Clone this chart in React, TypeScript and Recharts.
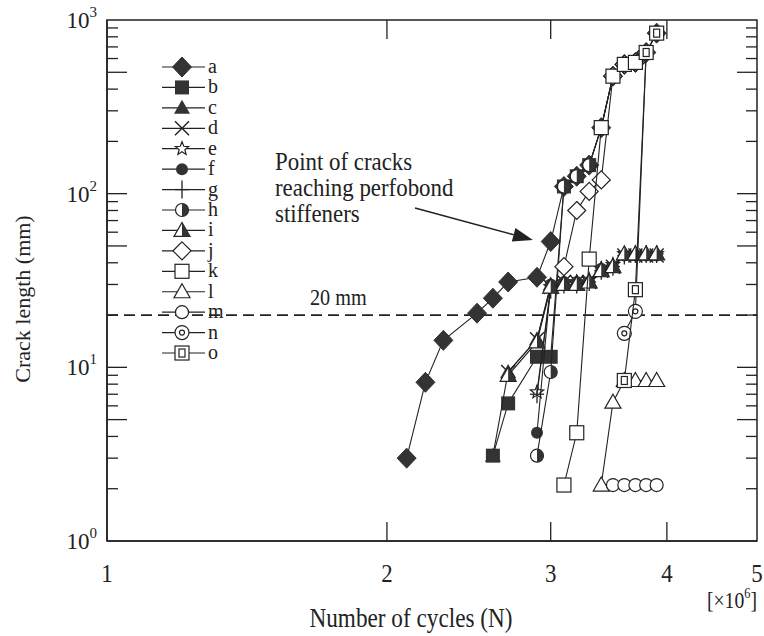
import { ComposedChart, Legend, ReferenceArea, ReferenceLine, Scatter, XAxis, YAxis } from 'recharts';

const CHART_W = 764;
const CHART_H = 636;
const MARGIN = { top: 20, right: 7, left: 0, bottom: 0 };
const Y_AXIS_W = 107;
const X_AXIS_H = 95;
const PLOT_W = CHART_W - MARGIN.left - MARGIN.right - Y_AXIS_W;
const PLOT_H = CHART_H - MARGIN.top - MARGIN.bottom - X_AXIS_H;

const INK = '#222';
const FILL = '#333';
const SERIF = '"Liberation Serif", "Times New Roman", serif';

const X_TICKS = [1, 2, 3, 4, 5];
const Y_TICKS = [1, 2, 3, 4, 5, 6, 7, 8, 9, 10, 20, 30, 40, 50, 60, 70, 80, 90, 100, 200, 300, 400, 500, 600, 700, 800, 900, 1000];
const Y_EXP: Record<number, string> = { 1: '0', 10: '1', 100: '2', 1000: '3' };
const Y_LONG = [5, 10, 50, 100, 500];

const THRESHOLD = 20;
const ARROW_FROM = { x: 2.144, y: 82.6 };
const ARROW_TO = { x: 2.871, y: 54.1 };

// cycles (x10^6) and crack length (mm) per specimen
const A_N = [2.1, 2.2, 2.3, 2.5, 2.6, 2.7, 2.9, 3.0, 3.1, 3.2, 3.3, 3.4, 3.5, 3.6, 3.7, 3.8, 3.9];
const A_LEN = [3.0, 8.2, 14.3, 20.5, 25, 31, 33, 53, 110, 126, 146, 240, 475, 555, 570, 650, 840];
const B_N = [2.6, 2.7, 2.9, 3.0, 3.1, 3.2, 3.3, 3.4, 3.5, 3.6];
const B_LEN = [3.1, 6.2, 11.5, 11.5, 110, 126, 146, 240, 475, 555];
const C_N = [2.6, 2.7, 2.9, 3.0, 3.1, 3.2, 3.3, 3.4, 3.5, 3.6, 3.7, 3.8, 3.9];
const C_LEN = [3.1, 9.4, 14.5, 30, 31, 31, 31, 37, 38, 45, 45, 45, 45];
const D_N = [2.7, 2.9, 3.0, 3.1, 3.2, 3.3, 3.4, 3.5, 3.6, 3.7, 3.8, 3.9];
const D_LEN = [9.4, 14.5, 29, 31, 31, 31, 36, 38, 44, 44, 44, 44];
const E_N = [2.9, 3.0, 3.1, 3.2, 3.3, 3.4, 3.5, 3.6, 3.7, 3.8, 3.9];
const E_LEN = [7.2, 29, 31, 31, 32, 37, 39, 45, 45, 45, 45];
const F_N = [2.9, 3.0, 3.1, 3.2, 3.3, 3.4, 3.5, 3.6, 3.7, 3.8, 3.9];
const F_LEN = [4.2, 30, 31, 31, 31, 37, 38, 44, 44, 44, 44];
const G_N = [2.9, 3.0, 3.1, 3.2, 3.3, 3.4, 3.5, 3.6, 3.7, 3.8, 3.9];
const G_LEN = [7.0, 28, 30, 30, 31, 36, 38, 44, 45, 45, 45];
const H_N = [2.9, 3.0, 3.1, 3.2, 3.3, 3.4, 3.5];
const H_LEN = [3.1, 9.4, 110, 126, 146, 240, 475];
const I_N = [2.7, 2.9, 3.0, 3.1, 3.2, 3.3, 3.4, 3.5, 3.6, 3.7, 3.8, 3.9];
const I_LEN = [9.0, 14, 29, 30, 30, 31, 36, 38, 45, 45, 45, 45];
const J_N = [3.1, 3.2, 3.3, 3.4, 3.5, 3.6, 3.7, 3.8];
const J_LEN = [38, 80, 103, 120, 475, 555, 570, 650];
const K_N = [3.1, 3.2, 3.3, 3.4, 3.5, 3.6, 3.7];
const K_LEN = [2.1, 4.2, 42, 240, 475, 555, 570];
const L_N = [3.4, 3.5, 3.6, 3.7, 3.8, 3.9];
const L_LEN = [2.1, 6.3, 8.4, 8.4, 8.4, 8.4];
const M_N = [3.5, 3.6, 3.7, 3.8, 3.9];
const M_LEN = [2.1, 2.1, 2.1, 2.1, 2.1];
const N_N = [3.6, 3.7, 3.8, 3.9];
const N_LEN = [15.7, 21, 650, 840];
const O_N = [3.6, 3.7, 3.8, 3.9];
const O_LEN = [8.4, 28, 650, 840];

const SERIES = [
  { name: 'a', kind: 'diamondF', n: A_N, len: A_LEN },
  { name: 'b', kind: 'squareF', n: B_N, len: B_LEN },
  { name: 'c', kind: 'triF', n: C_N, len: C_LEN },
  { name: 'd', kind: 'cross', n: D_N, len: D_LEN },
  { name: 'e', kind: 'star', n: E_N, len: E_LEN },
  { name: 'f', kind: 'circF', n: F_N, len: F_LEN },
  { name: 'g', kind: 'plus', n: G_N, len: G_LEN },
  { name: 'h', kind: 'circHalf', n: H_N, len: H_LEN },
  { name: 'i', kind: 'triHalf', n: I_N, len: I_LEN },
  { name: 'j', kind: 'diamondO', n: J_N, len: J_LEN },
  { name: 'k', kind: 'squareO', n: K_N, len: K_LEN },
  { name: 'l', kind: 'triO', n: L_N, len: L_LEN },
  { name: 'm', kind: 'circO', n: M_N, len: M_LEN },
  { name: 'n', kind: 'circDot', n: N_N, len: N_LEN },
  { name: 'o', kind: 'squareDbl', n: O_N, len: O_LEN },
];

function Marker({ kind, cx, cy }: { kind: string; cx: number; cy: number }) {
  const sw = 1.2;
  switch (kind) {
    case 'diamondF':
      return <polygon points={`${cx},${cy - 10} ${cx + 9.5},${cy} ${cx},${cy + 10} ${cx - 9.5},${cy}`} fill={FILL} stroke={FILL} />;
    case 'squareF':
      return <rect x={cx - 7} y={cy - 7} width={14} height={14} fill={FILL} />;
    case 'triF':
      return <polygon points={`${cx},${cy - 8} ${cx + 8},${cy + 6} ${cx - 8},${cy + 6}`} fill={FILL} />;
    case 'cross':
      return (
        <g stroke={INK} strokeWidth={1.4}>
          <line x1={cx - 7} y1={cy - 7} x2={cx + 7} y2={cy + 7} />
          <line x1={cx - 7} y1={cy + 7} x2={cx + 7} y2={cy - 7} />
        </g>
      );
    case 'star': {
      const pts: string[] = [];
      for (let i = 0; i < 10; i++) {
        const r = i % 2 === 0 ? 7 : 3;
        const a = -Math.PI / 2 + (i * Math.PI) / 5;
        pts.push(`${cx + r * Math.cos(a)},${cy + r * Math.sin(a)}`);
      }
      return <polygon points={pts.join(' ')} fill="#fff" stroke={INK} strokeWidth={sw} />;
    }
    case 'circF':
      return <circle cx={cx} cy={cy} r={6} fill={FILL} />;
    case 'plus':
      return (
        <g stroke={INK} strokeWidth={1.3}>
          <line x1={cx} y1={cy - 9} x2={cx} y2={cy + 9} />
          <line x1={cx - 7} y1={cy} x2={cx + 7} y2={cy} />
        </g>
      );
    case 'circHalf':
      return (
        <g>
          <circle cx={cx} cy={cy} r={6.5} fill="#fff" stroke={INK} strokeWidth={sw} />
          <path d={`M${cx},${cy - 6.5} A6.5,6.5 0 0 1 ${cx},${cy + 6.5} Z`} fill={FILL} />
        </g>
      );
    case 'triHalf':
      return (
        <g>
          <polygon points={`${cx},${cy - 8} ${cx + 8},${cy + 6} ${cx - 8},${cy + 6}`} fill="#fff" stroke={INK} strokeWidth={sw} />
          <polygon points={`${cx},${cy - 8} ${cx + 8},${cy + 6} ${cx},${cy + 6}`} fill={FILL} />
        </g>
      );
    case 'diamondO':
      return <polygon points={`${cx},${cy - 9} ${cx + 9},${cy} ${cx},${cy + 9} ${cx - 9},${cy}`} fill="#fff" stroke={INK} strokeWidth={sw} />;
    case 'squareO':
      return <rect x={cx - 7} y={cy - 7} width={14} height={14} fill="#fff" stroke={INK} strokeWidth={sw} />;
    case 'triO':
      return <polygon points={`${cx},${cy - 8} ${cx + 8},${cy + 6} ${cx - 8},${cy + 6}`} fill="#fff" stroke={INK} strokeWidth={sw} />;
    case 'circO':
      return <circle cx={cx} cy={cy} r={6.5} fill="#fff" stroke={INK} strokeWidth={sw} />;
    case 'circDot':
      return (
        <g fill="#fff" stroke={INK} strokeWidth={sw}>
          <circle cx={cx} cy={cy} r={7} />
          <circle cx={cx} cy={cy} r={2.5} />
        </g>
      );
    case 'squareDbl':
      return (
        <g fill="#fff" stroke={INK} strokeWidth={sw}>
          <rect x={cx - 7} y={cy - 7} width={14} height={14} />
          <rect x={cx - 3} y={cy - 4} width={6} height={8} />
        </g>
      );
    default:
      return null;
  }
}

function XTick({ x, y, payload }: any) {
  const v = payload.value;
  const inner = v > 1 && v < 5;
  return (
    <g>
      {inner && <line x1={x} y1={y} x2={x} y2={y - 19} stroke={INK} strokeWidth={1.3} />}
      {inner && <line x1={x} y1={y - PLOT_H} x2={x} y2={y - PLOT_H + 19} stroke={INK} strokeWidth={1.3} />}
      <text transform={`translate(${x},${y + 41}) scale(0.88,1)`} textAnchor="middle" fontFamily={SERIF} fontSize={26} fill={INK}>
        {v}
      </text>
    </g>
  );
}

function YTick({ x, y, payload }: any) {
  const v = payload.value;
  const edge = v === 1 || v === 1000;
  const len = Y_LONG.includes(v) ? 20 : 11;
  const exp = Y_EXP[v];
  return (
    <g>
      {!edge && <line x1={x} y1={y} x2={x + len} y2={y} stroke={INK} strokeWidth={1.3} />}
      {!edge && <line x1={x + PLOT_W} y1={y} x2={x + PLOT_W - len} y2={y} stroke={INK} strokeWidth={1.3} />}
      {exp !== undefined && (
        <text x={x - 10} y={y + 8} textAnchor="end" fontFamily={SERIF} fontSize={23} fill={INK}>
          10
          <tspan dy={-11} fontSize={15}>
            {exp}
          </tspan>
        </text>
      )}
    </g>
  );
}

function Arrow({ x1, y1, x2, y2 }: any) {
  const ang = Math.atan2(y2 - y1, x2 - x1);
  const L = 20;
  const W = 7;
  const bx = x2 - L * Math.cos(ang);
  const by = y2 - L * Math.sin(ang);
  const px = -Math.sin(ang) * W;
  const py = Math.cos(ang) * W;
  return (
    <g>
      <line x1={x1} y1={y1} x2={bx} y2={by} stroke={INK} strokeWidth={1.5} />
      <polygon points={`${x2},${y2} ${bx + px},${by + py} ${bx - px},${by - py}`} fill={INK} />
    </g>
  );
}

function LegendBox() {
  return (
    <svg width={80} height={320}>
      {SERIES.map((s, i) => {
        const cy = 17 + i * 20.43;
        return (
          <g key={s.name}>
            <line x1={12} y1={cy} x2={55} y2={cy} stroke={INK} strokeWidth={1.2} />
            <Marker kind={s.kind} cx={32} cy={cy} />
            <text x={58} y={cy + 6} fontFamily={SERIF} fontSize={20} fill={INK}>
              {s.name}
            </text>
          </g>
        );
      })}
    </svg>
  );
}

export default function App() {
  const txt = { fontFamily: SERIF, fill: INK };
  return (
    <div style={{ position: 'absolute', left: 0, top: 0, width: CHART_W, height: CHART_H, background: '#fff' }}>
      <ComposedChart width={CHART_W} height={CHART_H} margin={MARGIN}>
        <XAxis
          type="number"
          dataKey="n"
          scale="log"
          domain={[1, 5]}
          ticks={X_TICKS}
          interval={0}
          allowDataOverflow
          height={X_AXIS_H}
          tickSize={0}
          tickMargin={0}
          tickLine={false}
          axisLine={{ stroke: INK, strokeWidth: 1.5 }}
          tick={(p: any) => <XTick {...p} />}
        />
        <YAxis
          type="number"
          dataKey="len"
          scale="log"
          domain={[1, 1000]}
          ticks={Y_TICKS}
          interval={0}
          allowDataOverflow
          width={Y_AXIS_W}
          tickSize={0}
          tickMargin={0}
          tickLine={false}
          axisLine={{ stroke: INK, strokeWidth: 1.5 }}
          tick={(p: any) => <YTick {...p} />}
        />
        <ReferenceArea x1={1} x2={5} y1={1} y2={1000} fill="none" fillOpacity={0} stroke={INK} strokeWidth={1.5} ifOverflow="visible" />
        <ReferenceLine y={THRESHOLD} stroke={INK} strokeWidth={1.8} strokeDasharray="11 6" />
        <ReferenceLine segment={[ARROW_FROM, ARROW_TO]} ifOverflow="visible" shape={(p: any) => <Arrow {...p} />} />
        {SERIES.map((s) => (
          <Scatter
            key={s.name}
            name={s.name}
            data={s.n.map((n, i) => ({ n, len: s.len[i] }))}
            line={{ stroke: INK, strokeWidth: 1.1 }}
            lineJointType="linear"
            shape={(p: any) => <Marker kind={s.kind} cx={p.cx} cy={p.cy} />}
            isAnimationActive={false}
          />
        ))}
        <Legend
          layout="vertical"
          align="center"
          verticalAlign="middle"
          wrapperStyle={{ left: 150, top: 50, width: 80, height: 320 }}
          content={() => <LegendBox />}
        />
      </ComposedChart>
      <svg width={CHART_W} height={CHART_H} style={{ position: 'absolute', left: 0, top: 0, pointerEvents: 'none' }}>
        <text transform="translate(30,299) rotate(-90)" textAnchor="middle" fontSize={22} {...txt}>
          Crack length (mm)
        </text>
        <text transform="translate(411,627) scale(0.86,1)" textAnchor="middle" fontSize={27} {...txt}>
          Number of cycles (N)
        </text>
        <text transform="translate(757,608) scale(0.82,1)" textAnchor="end" fontSize={24} {...txt}>
          [×10<tspan dy={-10} fontSize={15}>6</tspan>
          <tspan dy={10}>]</tspan>
        </text>
        <g transform="translate(275,0)">
          <text transform="translate(0,170) scale(0.88,1)" fontSize={26} {...txt}>
            Point of cracks
          </text>
          <text transform="translate(0,196) scale(0.88,1)" fontSize={26} {...txt}>
            reaching perfobond
          </text>
          <text transform="translate(0,222) scale(0.88,1)" fontSize={26} {...txt}>
            stiffeners
          </text>
        </g>
        <text transform="translate(310,305) scale(0.88,1)" fontSize={23} {...txt}>
          20 mm
        </text>
      </svg>
    </div>
  );
}
